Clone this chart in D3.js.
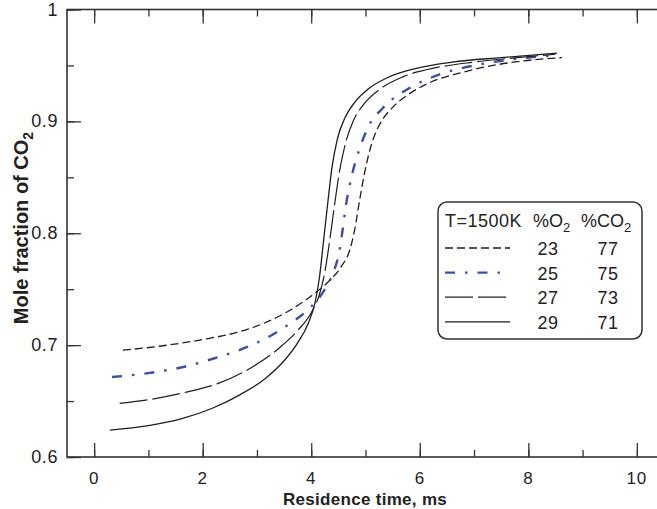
<!DOCTYPE html>
<html>
<head>
<meta charset="utf-8">
<script src="https://cdn.jsdelivr.net/npm/d3@7"></script>
<style>
	body { margin: 0; background: #fff; }
	text { font-family: "Liberation Sans", Arial, sans-serif; fill: #222; }
</style>
</head>
<body>
<div id="chart"></div>
<script>
// residence time (ms) and CO2 mole fraction, one pair per O2 level
var o2Levels = [23, 25, 27, 29];
var co2Levels = [77, 75, 73, 71];

var time23 = [0.53, 1.2, 2.0, 2.6, 3.1, 3.6, 4.0, 4.3, 4.55, 4.71, 4.8, 4.9, 5.0, 5.14, 5.27, 5.51, 5.82, 6.2, 6.8, 7.35, 7.9, 8.62];
var frac23 = [0.6955, 0.699, 0.705, 0.711, 0.719, 0.731, 0.744, 0.756, 0.770, 0.785, 0.803, 0.832, 0.858, 0.884, 0.898, 0.913, 0.925, 0.935, 0.944, 0.950, 0.954, 0.957];

var time25 = [0.33, 1.0, 1.6, 2.2, 2.75, 3.2, 3.6, 3.95, 4.2, 4.38, 4.5, 4.57, 4.64, 4.75, 4.88, 5.05, 5.32, 5.82, 6.37, 7.11, 7.8, 8.5];
var frac25 = [0.6715, 0.675, 0.680, 0.688, 0.697, 0.707, 0.719, 0.732, 0.746, 0.762, 0.780, 0.800, 0.825, 0.852, 0.874, 0.895, 0.912, 0.930, 0.942, 0.951, 0.956, 0.959];

var time27 = [0.47, 1.1, 1.7, 2.3, 2.9, 3.4, 3.75, 4.0, 4.15, 4.25, 4.33, 4.42, 4.52, 4.64, 4.78, 4.98, 5.27, 5.7, 6.3, 7.0, 7.8, 8.5];
var frac27 = [0.648, 0.652, 0.658, 0.666, 0.680, 0.697, 0.713, 0.729, 0.745, 0.765, 0.790, 0.822, 0.855, 0.882, 0.901, 0.916, 0.929, 0.940, 0.948, 0.953, 0.957, 0.960];

var time29 = [0.29, 1.0, 1.6, 2.2, 2.7, 3.15, 3.5, 3.75, 3.95, 4.07, 4.15, 4.22, 4.3, 4.38, 4.48, 4.62, 4.8, 5.05, 5.4, 5.9, 6.6, 7.5, 8.53];
var frac29 = [0.624, 0.628, 0.634, 0.644, 0.656, 0.670, 0.686, 0.702, 0.720, 0.738, 0.760, 0.790, 0.825, 0.858, 0.884, 0.903, 0.917, 0.929, 0.939, 0.947, 0.953, 0.957, 0.961];

var xTicks = [0, 2, 4, 6, 8, 10];
var yTicks = [0.6, 0.7, 0.8, 0.9, 1];

var width = 657, height = 509;
// plot frame; the right edge sits just past the window, as in the original
var plotLeft = 67, plotRight = 664, plotTop = 9.5, plotBottom = 457;

var series = [
	{ o2: o2Levels[0], co2: co2Levels[0], t: time23, v: frac23, color: "#1e1e1e", dash: "8,4", w: 1.3 },
	{ o2: o2Levels[1], co2: co2Levels[1], t: time25, v: frac25, color: "#3b4fa3", dash: "10,10,2.5,10", w: 2.4 },
	{ o2: o2Levels[2], co2: co2Levels[2], t: time27, v: frac27, color: "#1e1e1e", dash: "28,5", w: 1.2 },
	{ o2: o2Levels[3], co2: co2Levels[3], t: time29, v: frac29, color: "#1e1e1e", dash: null, w: 1.3 }
];

var svg = d3.select("#chart").append("svg")
	.attr("width", width)
	.attr("height", height);

var x = d3.scaleLinear().domain([-0.5, 10.5]).range([plotLeft, plotRight]);
var y = d3.scaleLinear().domain([0.6, 1]).range([plotBottom, plotTop]);

svg.append("defs").append("clipPath")
	.attr("id", "plot-clip")
	.append("rect")
	.attr("x", plotLeft).attr("y", plotTop)
	.attr("width", plotRight - plotLeft).attr("height", plotBottom - plotTop);

// inward ticks on all four sides
var minorX = d3.range(0, 11, 1), minorY = d3.range(0.6, 1.001, 0.05);
function tickAxis(axis, scale, vals, size){
	return axis(scale).tickValues(vals).tickSize(size).tickFormat("");
}
var axes = svg.append("g").attr("class", "axes");
axes.append("g").attr("transform", "translate(0," + plotBottom + ")").call(tickAxis(d3.axisTop, x, minorX, 7));
axes.append("g").attr("transform", "translate(0," + plotBottom + ")").call(tickAxis(d3.axisTop, x, xTicks, 14));
axes.append("g").attr("transform", "translate(0," + plotTop + ")").call(tickAxis(d3.axisBottom, x, minorX, 7));
axes.append("g").attr("transform", "translate(0," + plotTop + ")").call(tickAxis(d3.axisBottom, x, xTicks, 14));
axes.append("g").attr("transform", "translate(" + plotLeft + ",0)").call(tickAxis(d3.axisRight, y, minorY, 7));
axes.append("g").attr("transform", "translate(" + plotLeft + ",0)").call(tickAxis(d3.axisRight, y, yTicks, 14));
axes.selectAll(".domain").remove();
axes.selectAll("line").attr("stroke", "#333").attr("stroke-width", 1.3);

svg.append("rect")
	.attr("x", plotLeft).attr("y", plotTop)
	.attr("width", plotRight - plotLeft).attr("height", plotBottom - plotTop)
	.attr("fill", "none").attr("stroke", "#333").attr("stroke-width", 1.6);

// tick labels
svg.append("g").selectAll("text")
	.data(xTicks).enter().append("text")
	.attr("x", function(d){ return x(d); })
	.attr("y", 484)
	.attr("text-anchor", "middle")
	.style("font-size", "17px").style("letter-spacing", "0.8px")
	.text(function(d){ return d; });
svg.append("g").selectAll("text")
	.data(yTicks).enter().append("text")
	.attr("x", 58)
	.attr("y", function(d){ return y(d) + 6; })
	.attr("text-anchor", "end")
	.style("font-size", "18px").style("letter-spacing", "0.6px")
	.text(function(d){ return d === 1 ? "1" : d3.format(".1f")(d); });

svg.append("text")
	.attr("x", 365).attr("y", 505)
	.attr("text-anchor", "middle")
	.style("font-size", "17px").style("font-weight", "bold").style("letter-spacing", "0.3px")
	.text("Residence time, ms");

var yt = svg.append("text")
	.attr("transform", "translate(28,228) rotate(-90)")
	.attr("text-anchor", "middle")
	.style("font-size", "20px").style("font-weight", "bold");
yt.append("tspan").text("Mole fraction of CO");
yt.append("tspan").attr("dy", 5).style("font-size", "14px").text("2");

// curves
var line = d3.line()
	.x(function(d){ return x(d[0]); })
	.y(function(d){ return y(d[1]); })
	.curve(d3.curveMonotoneX);

svg.append("g").attr("clip-path", "url(#plot-clip)")
	.selectAll("path")
	.data(series).enter().append("path")
	.attr("d", function(s){ return line(d3.zip(s.t, s.v)); })
	.attr("fill", "none")
	.attr("stroke", function(s){ return s.color; })
	.attr("stroke-width", function(s){ return s.w; })
	.attr("stroke-dasharray", function(s){ return s.dash; });

// legend
var lg = svg.append("g").attr("id", "legend");
lg.append("rect")
	.attr("x", 438).attr("y", 202)
	.attr("width", 204).attr("height", 137)
	.attr("rx", 9)
	.attr("fill", "#fff").attr("stroke", "#333").attr("stroke-width", 1.5);
lg.append("text").attr("x", 445).attr("y", 227).style("font-size", "18px").style("letter-spacing", "0.5px").text("T=1500K");
var h1 = lg.append("text").attr("x", 533).attr("y", 227).style("font-size", "18px");
h1.append("tspan").text("%O");
h1.append("tspan").attr("dy", 5).style("font-size", "13px").text("2");
var h2 = lg.append("text").attr("x", 581).attr("y", 227).style("font-size", "18px");
h2.append("tspan").text("%CO");
h2.append("tspan").attr("dy", 5).style("font-size", "13px").text("2");

var row = lg.selectAll(".row")
	.data(series).enter().append("g")
	.attr("class", "row")
	.attr("transform", function(d, i){ return "translate(0," + (248 + i * 24.6) + ")"; });
row.append("line")
	.attr("x1", 445).attr("x2", 510)
	.attr("stroke", function(s){ return s.color; })
	.attr("stroke-width", function(s){ return s.w; })
	.attr("stroke-dasharray", function(s){ return s.dash; });
row.append("text").attr("x", 548).attr("y", 7)
	.attr("text-anchor", "middle").style("font-size", "18px").style("letter-spacing", "0.5px")
	.text(function(s){ return s.o2; });
row.append("text").attr("x", 608).attr("y", 7)
	.attr("text-anchor", "middle").style("font-size", "18px").style("letter-spacing", "0.5px")
	.text(function(s){ return s.co2; });
</script>
</body>
</html>
